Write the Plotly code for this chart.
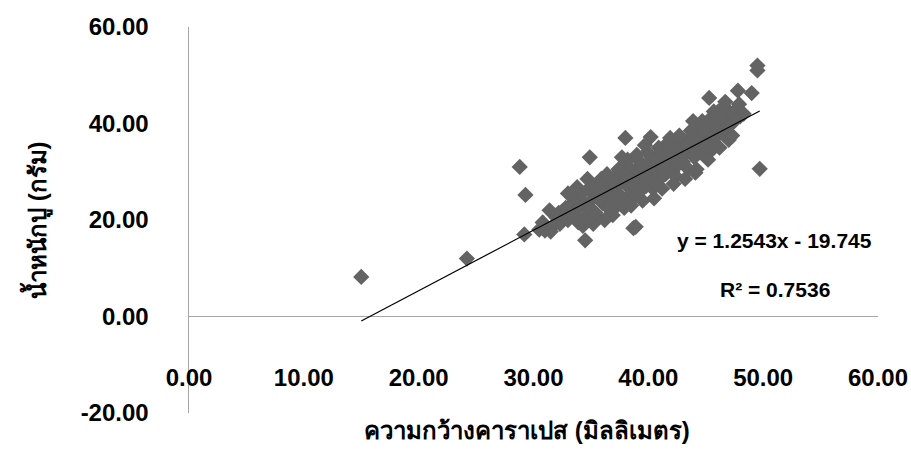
import plotly.graph_objects as go

# Carapace width (mm) and crab weight (g)
width_mm = [
    15.0, 24.2, 28.8, 29.3, 29.2, 31.4, 34.5, 34.9, 38.7, 38.0, 40.2, 45.3, 47.8, 49.0, 49.5, 49.5, 49.7,
    30.5, 31.0, 31.5, 30.8, 31.8, 32.2,
    32.0, 32.3, 32.5, 32.8, 33.0, 33.2, 33.5, 33.7, 33.9, 34.0, 34.2, 34.4, 34.6, 34.8, 35.0, 35.1,
    35.3, 35.5, 35.6, 35.8, 36.0, 36.1, 36.3, 36.5, 36.6, 36.8, 37.0, 37.1, 37.3, 37.5, 37.6, 37.8,
    38.0, 38.1, 38.3, 38.4, 38.6, 38.8, 39.0, 39.1, 39.3, 39.4, 39.6, 39.8, 40.0, 40.1, 40.3, 40.4,
    40.6, 40.8, 41.0, 41.1, 41.3, 41.5, 41.6, 41.8, 42.0, 42.1, 42.3, 42.5, 42.6, 42.8, 43.0, 43.1,
    43.3, 43.5, 43.6, 43.8, 44.0, 44.1, 44.3, 44.5, 44.6, 44.8, 45.0, 45.1, 45.3, 45.5, 45.6, 45.8,
    46.0, 46.1, 46.3, 46.5, 46.6, 46.8, 47.0, 47.2, 47.5, 47.7, 48.0, 47.0, 45.4, 44.1, 38.9,
    33.0, 33.8, 34.3, 35.2, 35.9, 36.4, 36.9, 37.4, 37.9, 38.2, 38.5, 39.0, 39.5, 39.9, 40.5, 40.9,
    41.2, 41.7, 42.2, 42.7, 43.2, 43.7, 44.2, 44.7, 45.2, 45.7, 46.2, 46.7, 47.3, 47.9, 48.3, 34.7,
    36.2, 37.7, 39.7, 41.9, 43.9, 42.4, 40.7, 38.9, 36.7, 35.4, 44.9, 46.4, 43.4, 41.4, 39.2, 37.2, 35.7,
]
weight_g = [
    8.2, 12.0, 31.0, 25.2, 17.0, 22.0, 15.8, 33.0, 18.3, 37.0, 37.2, 45.3, 46.8, 46.3, 52.0, 51.0, 30.6,
    18.0, 17.8, 17.6, 19.5, 19.0, 21.5,
    20.5, 19.2, 21.8, 22.5, 20.0, 23.0, 21.0, 24.5, 19.5, 22.8, 25.5, 23.5, 21.0, 26.5, 24.0, 22.0,
    27.0, 25.0, 20.5, 26.0, 23.5, 28.0, 25.5, 22.5, 27.0, 24.5, 26.5, 29.0, 23.0, 27.5, 25.0, 30.0,
    28.0, 24.5, 31.0, 26.5, 29.0, 27.0, 30.5, 25.5, 32.0, 28.5, 30.0, 27.0, 31.5, 29.0, 33.0, 26.5,
    30.5, 32.0, 28.5, 34.0, 31.0, 29.5, 33.5, 31.5, 35.0, 30.0, 33.0, 36.0, 31.5, 34.5, 32.0, 36.5,
    34.0, 30.5, 37.0, 35.0, 33.0, 38.0, 36.0, 34.0, 39.5, 37.0, 35.5, 40.0, 38.0, 36.0, 41.5, 39.0,
    37.5, 42.5, 40.0, 38.0, 43.5, 41.0, 39.5, 42.0, 40.5, 43.0, 41.5, 36.6, 34.2, 29.8, 18.6,
    25.5, 26.8, 18.8, 19.2, 28.5, 29.5, 21.0, 30.5, 22.5, 32.5, 23.0, 33.5, 24.0, 34.0, 24.5, 35.0,
    26.5, 36.0, 27.5, 37.5, 28.5, 38.5, 30.5, 40.5, 32.5, 42.5, 35.0, 44.5, 37.5, 44.0, 42.0, 28.5,
    20.0, 33.0, 35.5, 37.0, 40.5, 29.0, 27.5, 25.0, 23.0, 21.5, 38.5, 41.5, 35.5, 33.0, 30.0, 27.0, 24.5,
]

slope = 1.2543
intercept = -19.745
r_squared = 0.7536

x_ticks = [0, 10, 20, 30, 40, 50, 60]
y_ticks = [-20, 0, 20, 40, 60]
x_title = "ความกว้างคาราเปส (มิลลิเมตร)"
y_title = "น้ำหนักปู (กรัม)"

x_lo, x_hi = min(width_mm), max(width_mm)
trend_x = [x_lo, x_hi]
trend_y = [slope * v + intercept for v in trend_x]

font_family = "Liberation Sans, Arial, sans-serif"

fig = go.Figure()
fig.add_trace(go.Scatter(
    x=width_mm, y=weight_g, mode="markers",
    marker=dict(symbol="diamond", size=12.5, color="#636363", line=dict(width=0)),
    showlegend=False, hoverinfo="skip",
))
fig.add_trace(go.Scatter(
    x=trend_x, y=trend_y, mode="lines",
    line=dict(color="black", width=1.2),
    showlegend=False, hoverinfo="skip",
))

fig.add_annotation(
    x=51.0, y=15.7, xref="x", yref="y",
    text=f"y = {slope}x - {abs(intercept)}", showarrow=False,
    font=dict(family=font_family, size=21, color="black", weight="bold"),
)
fig.add_annotation(
    x=51.0, y=5.7, xref="x", yref="y",
    text=f"R² = {r_squared}", showarrow=False,
    font=dict(family=font_family, size=21, color="black", weight="bold"),
)

fig.update_layout(
    width=911, height=456,
    margin=dict(l=189, r=33, t=27, b=43),
    paper_bgcolor="white", plot_bgcolor="white",
    font=dict(family=font_family, color="black"),
    xaxis=dict(
        range=[0, 60], tickvals=x_ticks, ticktext=[f"{v:.2f}" for v in x_ticks],
        showgrid=False, zeroline=False, showline=False, ticks="",
        anchor="free", position=0.135, automargin=False,
        tickfont=dict(size=24, weight="bold", color="black"),
    ),
    yaxis=dict(
        range=[-20, 60], tickvals=y_ticks, ticktext=[f"{v:.2f}" for v in y_ticks],
        showgrid=False, zeroline=True, zerolinecolor="#a6a6a6", zerolinewidth=1.5,
        showline=True, linecolor="#a6a6a6", linewidth=1.5, ticks="",
        ticklabelstandoff=34, automargin=False,
        tickfont=dict(size=24, weight="bold", color="black"),
    ),
)

fig.add_annotation(
    x=0.49, y=-0.045, xref="paper", yref="paper", xanchor="center", yanchor="middle",
    text=x_title, showarrow=False,
    font=dict(size=24, weight="bold", color="black"),
)
fig.add_annotation(
    x=-0.222, y=0.5, xref="paper", yref="paper", xanchor="center", yanchor="middle",
    textangle=-90, text=y_title, showarrow=False,
    font=dict(size=24, weight="bold", color="black"),
)

fig.write_html(
    "out.html",
    config={"displayModeBar": False, "staticPlot": True},
    post_script="document.body.style.margin='0';document.body.style.overflow='hidden';",
)
